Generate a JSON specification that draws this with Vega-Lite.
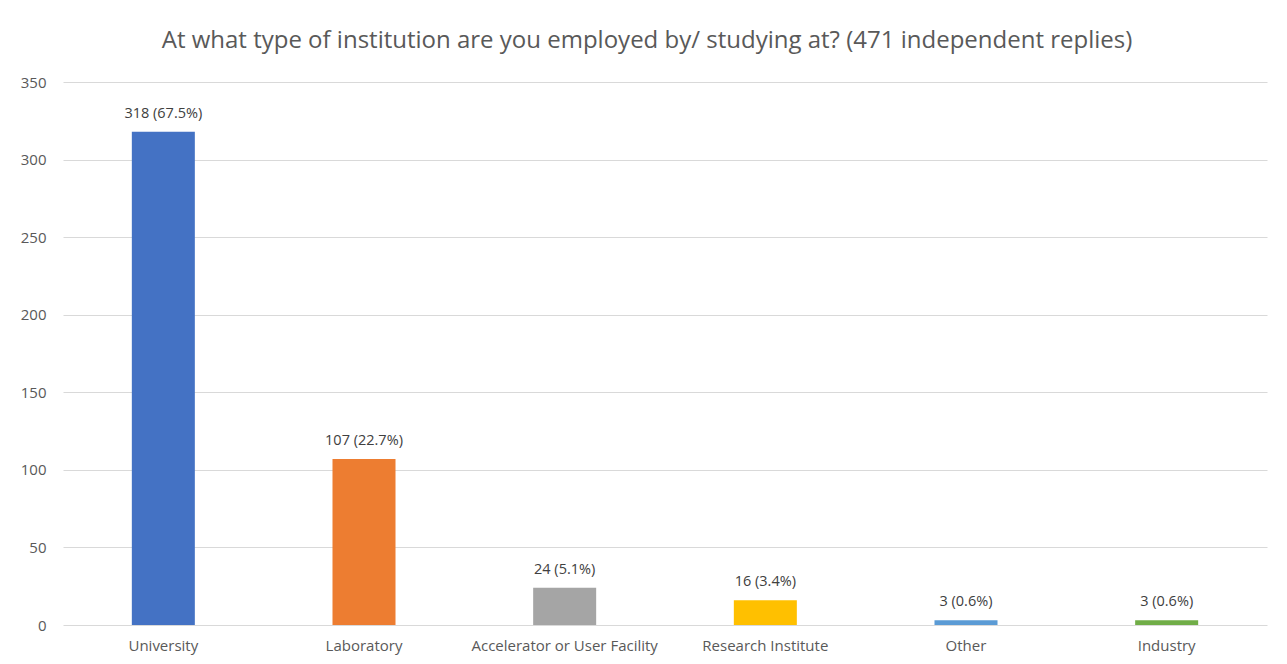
{
  "$schema": "https://vega.github.io/schema/vega-lite/v6.json",
  "autosize": "none",
  "width": 1204,
  "height": 543,
  "padding": {"left": 63, "top": 82, "right": 20, "bottom": 39},
  "background": "white",
  "title": {
    "text": "At what type of institution are you employed by/ studying at? (471 independent replies)",
    "font": "Open Sans",
    "fontSize": 24,
    "fontWeight": "normal",
    "color": "#595959",
    "anchor": "middle",
    "dx": -18,
    "offset": 22
  },
  "data": {
    "values": [
      {"type": "University", "count": 318, "label": "318 (67.5%)"},
      {"type": "Laboratory", "count": 107, "label": "107 (22.7%)"},
      {"type": "Accelerator or User Facility", "count": 24, "label": "24 (5.1%)"},
      {"type": "Research Institute", "count": 16, "label": "16 (3.4%)"},
      {"type": "Other", "count": 3, "label": "3 (0.6%)"},
      {"type": "Industry", "count": 3, "label": "3 (0.6%)"}
    ]
  },
  "encoding": {
    "x": {
      "field": "type",
      "type": "nominal",
      "sort": null,
      "scale": {"paddingInner": 0.686, "paddingOuter": 0.343},
      "axis": {
        "title": null,
        "labelAngle": 0,
        "labelFont": "Open Sans",
        "labelFontSize": 15,
        "labelColor": "#595959",
        "labelPadding": 13,
        "labelLimit": 400,
        "labelOverlap": false,
        "ticks": false,
        "domain": false
      }
    },
    "y": {
      "field": "count",
      "type": "quantitative",
      "scale": {"domain": [0, 350]},
      "axis": {
        "title": null,
        "values": [0, 50, 100, 150, 200, 250, 300, 350],
        "labelFont": "Open Sans",
        "labelFontSize": 15,
        "labelColor": "#595959",
        "labelPadding": 17,
        "ticks": false,
        "domain": false,
        "gridColor": "#D9D9D9",
        "gridWidth": 1
      }
    }
  },
  "layer": [
    {
      "mark": {"type": "bar"},
      "encoding": {
        "color": {
          "field": "type",
          "type": "nominal",
          "sort": null,
          "legend": null,
          "scale": {
            "domain": ["University", "Laboratory", "Accelerator or User Facility", "Research Institute", "Other", "Industry"],
            "range": ["#4472C4", "#ED7D31", "#A5A5A5", "#FFC000", "#5B9BD5", "#70AD47"]
          }
        }
      }
    },
    {
      "mark": {"type": "text", "baseline": "bottom", "dy": -11, "font": "Open Sans", "fontSize": 14.5, "color": "#404040"},
      "encoding": {"text": {"field": "label"}}
    }
  ],
  "config": {"view": {"stroke": null}}
}
